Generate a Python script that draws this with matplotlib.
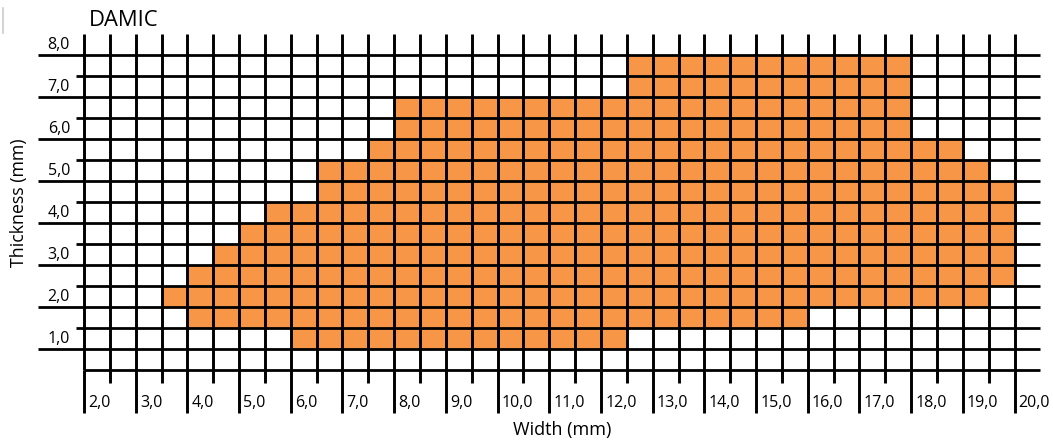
import numpy as np
import matplotlib
matplotlib.use("Agg")
import matplotlib.pyplot as plt
from matplotlib.lines import Line2D

plt.rcParams['font.family'] = ['Open Sans', 'DejaVu Sans']

# left edge of each 0.5 mm width column and its thickness range
width_left = [3.5, 4.0, 4.5, 5.0, 5.5, 6.0, 6.5, 7.0, 7.5, 8.0, 8.5, 9.0, 9.5,
              10.0, 10.5, 11.0, 11.5, 12.0, 12.5, 13.0, 13.5, 14.0, 14.5, 15.0,
              15.5, 16.0, 16.5, 17.0, 17.5, 18.0, 18.5, 19.0, 19.5]
thick_min = [2.0, 1.5, 1.5, 1.5, 1.5, 1.0, 1.0, 1.0, 1.0, 1.0, 1.0, 1.0, 1.0,
             1.0, 1.0, 1.0, 1.0, 1.0, 1.5, 1.5, 1.5, 1.5, 1.5, 1.5,
             1.5, 2.0, 2.0, 2.0, 2.0, 2.0, 2.0, 2.0, 2.5]
thick_max = [2.5, 3.0, 3.5, 4.0, 4.5, 4.5, 5.5, 5.5, 6.0, 7.0, 7.0, 7.0, 7.0,
             7.0, 7.0, 7.0, 7.0, 7.0, 8.0, 8.0, 8.0, 8.0, 8.0, 8.0,
             8.0, 8.0, 8.0, 8.0, 8.0, 6.0, 6.0, 5.5, 5.0]

x_labels = [2, 3, 4, 5, 6, 7, 8, 9, 10, 11, 12, 13, 14, 15, 16, 17, 18, 19, 20]
y_labels = [1, 2, 3, 4, 5, 6, 7, 8]
x_lines = np.arange(2.0, 20.01, 0.5)
y_lines = np.arange(0.5, 8.01, 0.5)

fig = plt.figure(figsize=(10.53, 4.42), dpi=100)
ax = fig.add_axes([0.0798, 0.1629, 0.9082, 0.7601])
ax.set_xlim(2.0, 20.5)
ax.set_ylim(0.5, 8.5)

heights = np.array(thick_max) - np.array(thick_min)
ax.bar(width_left, heights, bottom=thick_min, width=0.5, align='edge',
       color='#F79646', edgecolor='none', zorder=1)

# grid
ax.vlines(x_lines, 0.5, 8.5, colors='black', linewidth=2.1, zorder=2, clip_on=False)
ax.hlines(y_lines, 2.0, 20.5, colors='black', linewidth=2.0, zorder=2, clip_on=False)

for s in ax.spines.values():
    s.set_visible(False)

ax.set_xticks(x_labels)
ax.set_xticks(np.arange(2.5, 20.0, 1.0), minor=True)
ax.set_yticks(y_labels)
ax.set_yticks(np.arange(1.5, 8.0, 1.0), minor=True)
ax.tick_params(axis='x', which='major', length=31, width=2.1, color='black', labelbottom=False)
ax.tick_params(axis='x', which='minor', length=9.5, width=2.1, color='black')
ax.tick_params(axis='y', which='major', length=33, width=2.0, color='black', labelleft=False)
ax.tick_params(axis='y', which='minor', length=5.8, width=2.0, color='black')

for v in x_labels:
    ax.text(v + 0.08, -0.29, f"{v:.1f}".replace('.', ','), fontsize=11.5,
            ha='left', va='center', clip_on=False)
for v in y_labels:
    ax.text(1.73, v + 0.24, f"{v:.1f}".replace('.', ','), fontsize=11.5,
            ha='right', va='center', clip_on=False)

fig.text(562 / 1053, 1 - 430 / 442, "Width (mm)", fontsize=13, ha='center', va='center')
fig.text(19 / 1053, 1 - 203 / 442, "Thickness (mm)", fontsize=12.8, ha='center',
         va='center', rotation=90)
fig.text(89 / 1053, 1 - 21 / 442, "DAMIC", fontsize=15.8, ha='left', va='center')

fig.add_artist(Line2D([3 / 1053, 3 / 1053], [1 - 8 / 442, 1 - 33 / 442],
                      color='#cccccc', linewidth=1.2))

fig.savefig("out.png", dpi=100)
